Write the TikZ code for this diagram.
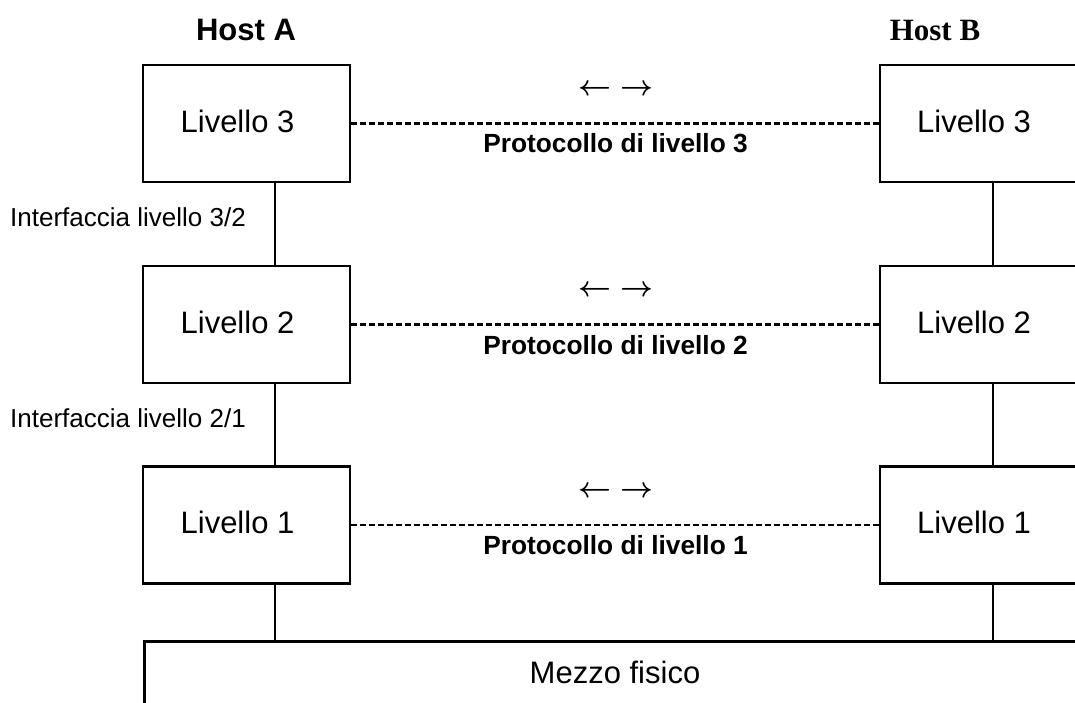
\documentclass[tikz,border=0pt]{standalone}
\usepackage{graphicx}
\usepackage{fontspec}
\setmainfont{Liberation Sans}
\newfontfamily\hostserif{Liberation Serif}
\usetikzlibrary{calc}

\newcommand{\peerarrows}{\scalebox{1.15}{\boldmath$\leftarrow$}\hspace{9pt}\scalebox{1.15}{\boldmath$\rightarrow$}}

\tikzset{
  layerbox/.style={draw, line width=2.8pt, minimum width=207pt, minimum height=117pt, inner sep=0pt},
  layertext/.style={anchor=base, inner sep=0pt, font=\fontsize{31}{37}\selectfont},
  hosttitle/.style={anchor=base, inner sep=0pt, font=\fontsize{31}{37}\selectfont\bfseries},
  protolabel/.style={anchor=base, inner sep=0pt, font=\fontsize{26.3}{31}\selectfont\bfseries},
  ifacelabel/.style={anchor=base west, inner sep=0pt, font=\fontsize{26}{31}\selectfont},
  arrowpair/.style={inner sep=0pt, font=\fontsize{24.88}{30}\selectfont},
  peerline/.style={line width=2.2pt, dash pattern=on 5.5pt off 3.5pt},
  stackline/.style={line width=2.8pt},
}

\begin{document}
\begin{tikzpicture}[x=1pt, y=-1pt]
  \useasboundingbox (0,0) rectangle (1075,702);
  \clip (0,0) rectangle (1075,702);

  % host titles
  \node[hosttitle] (hostA) at (246,40) {Host A};
  \node[hosttitle, font=\fontsize{31}{37}\selectfont\hostserif\bfseries] (hostB) at (935,40) {Host B};

  % layer stacks
  \node[layerbox] (a3) at (246.5,123.5) {};
  \node[layerbox] (a2) at (246.5,324.5) {};
  \node[layerbox] (a1) at (246.5,525) {};
  \node[layerbox] (b3) at (983.5,123.5) {};
  \node[layerbox] (b2) at (983.5,324.5) {};
  \node[layerbox] (b1) at (983.5,525) {};

  \node[layertext] (a3t) at (237.5,132) {Livello 3};
  \node[layertext] (a2t) at (237.5,333) {Livello 2};
  \node[layertext] (a1t) at (237.5,533.5) {Livello 1};
  \node[layertext] (b3t) at (974,132) {Livello 3};
  \node[layertext] (b2t) at (974,333) {Livello 2};
  \node[layertext] (b1t) at (974,533.5) {Livello 1};

  % physical medium
  \node[draw, line width=2.8pt, minimum width=944pt, minimum height=140pt, anchor=north west, inner sep=0pt] (medium) at (143,640) {};
  \node[layertext] (mediumt) at (615,683) {Mezzo fisico};

  % vertical links inside each host
  \coordinate (lineA) at (275,0);
  \coordinate (lineB) at (993,0);
  \draw[stackline] (a3.south -| lineA) -- (a2.north -| lineA);
  \draw[stackline] (a2.south -| lineA) -- (a1.north -| lineA);
  \draw[stackline] (a1.south -| lineA) -- (medium.north -| lineA);
  \draw[stackline] (b3.south -| lineB) -- (b2.north -| lineB);
  \draw[stackline] (b2.south -| lineB) -- (b1.north -| lineB);
  \draw[stackline] (b1.south -| lineB) -- (medium.north -| lineB);

  % interface labels
  \node[ifacelabel] (if32) at (10,226) {Interfaccia livello 3/2};
  \node[ifacelabel] (if21) at (10,427) {Interfaccia livello 2/1};

  % peer protocols
  \draw[peerline] (a3.east) -- (b3.west);
  \draw[peerline] (a2.east) -- (b2.west);
  \draw[peerline] (a1.east) -- (b1.west);

  \node[arrowpair] (p3a) at (615.5,90) {\peerarrows};
  \node[arrowpair] (p2a) at (615.5,291) {\peerarrows};
  \node[arrowpair] (p1a) at (615.5,491.5) {\peerarrows};

  \node[protolabel] (p3) at (615.5,152) {Protocollo di livello 3};
  \node[protolabel] (p2) at (615.5,354) {Protocollo di livello 2};
  \node[protolabel] (p1) at (615.5,554) {Protocollo di livello 1};
\end{tikzpicture}
\end{document}
